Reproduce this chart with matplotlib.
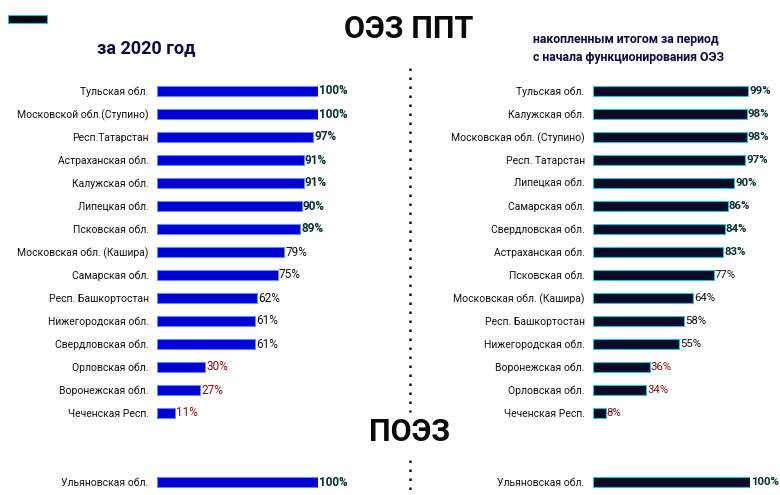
import matplotlib.pyplot as plt
from matplotlib.lines import Line2D
from matplotlib.patches import Rectangle

plt.rcParams['font.family'] = ['Roboto', 'DejaVu Sans']

# ---- data ----
left_regions = ['Тульская обл.', 'Московской обл.(Ступино)', 'Респ.Татарстан',
                'Астраханская обл.', 'Калужская обл.', 'Липецкая обл.',
                'Псковская обл.', 'Московская обл. (Кашира)', 'Самарская обл.',
                'Респ. Башкортостан', 'Нижегородская обл.', 'Свердловская обл.',
                'Орловская обл.', 'Воронежская обл.', 'Чеченская Респ.']
left_values = [100, 100, 97, 91, 91, 90, 89, 79, 75, 62, 61, 61, 30, 27, 11]

right_regions = ['Тульская обл.', 'Калужская обл.', 'Московская обл. (Ступино)',
                 'Респ. Татарстан', 'Липецкая обл.', 'Самарская обл.',
                 'Свердловская обл.', 'Астраханская обл.', 'Псковская обл.',
                 'Московская обл. (Кашира)', 'Респ. Башкортостан',
                 'Нижегородская обл.', 'Воронежская обл.', 'Орловская обл.',
                 'Чеченская Респ.']
right_values = [99, 98, 98, 97, 90, 86, 84, 83, 77, 64, 58, 55, 36, 34, 8]

poez_region = ['Ульяновская обл.']
poez_left = [100]
poez_right = [100]

W, H = 780, 495
fig = plt.figure(figsize=(7.8, 4.95), dpi=100)


def fx(px):
    return px / W


def fy(py):
    return 1 - py / H


def value_style(v):
    # bold dark for high, plain for middle, dark red for low
    if v >= 80:
        return dict(color='#06302e', fontweight='bold')
    if v >= 50:
        return dict(color='#111111', fontweight='normal')
    return dict(color='#8b0a0a', fontweight='normal')


def panel(left_px, width_px, regions, values, poez_vals, color, edge, vfs):
    # rows 0..14 main list, row 17 for ПОЭЗ
    top = 91 - 11.5
    bottom = 482 + 11.5
    ax = fig.add_axes([fx(left_px), fy(bottom), fx(width_px), (bottom - top) / H])
    ys = list(range(len(regions))) + [17]
    vals = values + poez_vals
    labels = regions + poez_region
    ax.barh(ys, vals, height=0.4, color=color, edgecolor=edge, linewidth=0.8)
    for y, v in zip(ys, vals):
        ax.text(v + 0.6, y, f'{v}%', va='center', ha='left', fontsize=vfs,
                clip_on=False, **value_style(v))
    ax.set_xlim(0, 100)
    ax.set_ylim(17.5, -0.5)
    ax.set_yticks(ys)
    ax.set_yticklabels(labels, fontsize=7.5, color='#111111')
    ax.tick_params(axis='y', length=0, pad=6)
    ax.set_xticks([])
    for s in ax.spines.values():
        s.set_visible(False)
    ax.patch.set_alpha(0)
    return ax


panel(157, 161, left_regions, left_values, poez_left, '#0000d4', '#5c8cff', 8.5)
panel(593, 157, right_regions, right_values, poez_right, '#0b0b26', '#22c4d6', 8.2)

# titles
fig.text(fx(409), fy(29), 'ОЭЗ ППТ', ha='center', va='center',
         fontsize=22, fontweight='bold', color='#0a0a0a')
fig.text(fx(410), fy(432), 'ПОЭЗ', ha='center', va='center',
         fontsize=22, fontweight='bold', color='#0a0a0a')
fig.text(fx(97), fy(48), 'за 2020 год', ha='left', va='center',
         fontsize=13, fontweight='bold', color='#0c0c40')
fig.text(fx(533), fy(48), 'накопленным итогом за период\nс начала функционирования ОЭЗ',
         ha='left', va='center', fontsize=8.8, fontweight='bold',
         color='#0c0c40', linespacing=1.5)

# dotted separators
fig.add_artist(Line2D([fx(410), fx(410)], [fy(68), fy(412)], color='#101040',
                      linewidth=1.8, linestyle=(0, (1, 2.6))))
fig.add_artist(Line2D([fx(410), fx(410)], [fy(460), fy(493)], color='#101040',
                      linewidth=1.8, linestyle=(0, (1, 2.6))))

# small decorative bar in the corner
fig.add_artist(Rectangle((fx(8), fy(23)), fx(39), 8 / H, facecolor='#050510',
                         edgecolor='#22c4d6', linewidth=0.8))

fig.savefig('out.png', dpi=100)
